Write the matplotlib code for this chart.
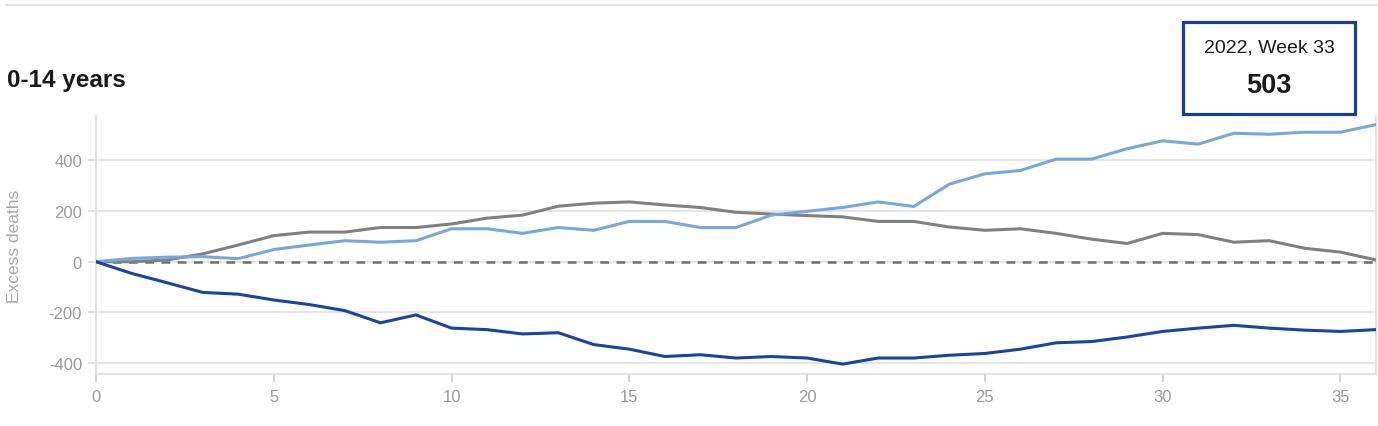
import matplotlib
matplotlib.use("Agg")
import matplotlib.pyplot as plt
from matplotlib.patches import Rectangle
from matplotlib.lines import Line2D

plt.rcParams["axes.unicode_minus"] = False

weeks = list(range(0, 37))

series_dark = [0, -46, -83, -121, -128, -151, -169, -193, -241, -210, -262,
               -268, -285, -280, -327, -345, -374, -367, -380, -374, -380,
               -404, -380, -380, -369, -362, -345, -320, -315, -297, -275,
               -262, -251, -262, -270, -275, -268]
series_light = [0, 13, 18, 20, 12, 48, 66, 83, 77, 83, 130,
                130, 112, 135, 124, 159, 159, 135, 135, 184, 199,
                214, 236, 218, 306, 347, 360, 405, 405, 446, 477,
                464, 507, 503, 511, 511, 541]
series_gray = [0, 0, 7, 31, 66, 103, 117, 117, 135, 135, 149,
               172, 184, 219, 231, 236, 224, 214, 195, 188, 182,
               177, 159, 159, 137, 124, 130, 112, 89, 72, 112,
               107, 77, 83, 53, 38, 7]

y_ticks = [-400, -200, 0, 200, 400]
x_ticks = [0, 5, 10, 15, 20, 25, 30, 35]

title = "0-14 years"
y_label = "Excess deaths"
tip_title = "2022, Week 33"
tip_value = "503"

W, H = 1378, 427
fig = plt.figure(figsize=(W / 100, H / 100), dpi=100)
fig.patch.set_facecolor("white")

ax = fig.add_axes([96 / W, 1 - 375 / H, (1376 - 96) / W, (375 - 117) / H])
ax.set_xlim(0, 36)
ax.set_ylim(-443, 575)

for v in y_ticks:
    ax.axhline(v, color="#e3e3e3", lw=1.3, zorder=0)
ax.axhline(0, color="#6e6e6e", lw=1.8, ls=(0, (3.5, 3.0)), zorder=1)

ax.plot(weeks, series_gray, color="#808080", lw=2.2, zorder=3, solid_joinstyle="miter")
ax.plot(weeks, series_light, color="#77a6e0", lw=2.2, zorder=3, solid_joinstyle="miter")
ax.plot(weeks, series_dark, color="#1a43a2", lw=2.2, zorder=4, solid_joinstyle="miter")

ax.spines["top"].set_visible(False)
for s in ["left", "right", "bottom"]:
    ax.spines[s].set_color("#e0e0e0")
    ax.spines[s].set_linewidth(1.3)

ax.set_yticks(y_ticks)
ax.set_xticks(x_ticks)
ax.tick_params(axis="y", colors="#9a9a9a", labelsize=12, length=6, width=1.2,
               color="#dddddd", pad=4)
ax.tick_params(axis="x", colors="#9a9a9a", labelsize=12, length=6, width=1.2,
               color="#cccccc", pad=5)
for lbl in ax.get_xticklabels() + ax.get_yticklabels():
    lbl.set_fontfamily("Liberation Sans")

# y-axis label
fig.text(15 / W, 1 - 246 / H, y_label, rotation=90, color="#a8a8a8", fontsize=12.5,
         family="Liberation Sans", ha="center", va="center")

# top separator line
fig.add_artist(Line2D([6 / W, 1.0], [1 - 6 / H, 1 - 6 / H], color="#e0e0e0", lw=1.3))

# title
fig.text(7 / W, 1 - 80 / H, title, fontsize=17.5, fontweight="bold", color="#1a1a1a",
         family="Liberation Sans", va="center", ha="left")

# tooltip box
fig.add_artist(Rectangle((1183 / W, 1 - 115 / H), (1355 - 1183) / W, (115 - 23) / H,
                         transform=fig.transFigure, facecolor="white",
                         edgecolor="#173f98", lw=2.3, zorder=10))
fig.text(1269 / W, 1 - 48 / H, tip_title, fontsize=14, color="#1a1a1a",
         family="Liberation Sans", ha="center", va="center", zorder=11)
fig.text(1269 / W, 1 - 86 / H, tip_value, fontsize=19.5, fontweight="bold", color="#1a1a1a",
         family="Liberation Sans", ha="center", va="center", zorder=11)

fig.savefig("out.png", dpi=100, facecolor="white")
